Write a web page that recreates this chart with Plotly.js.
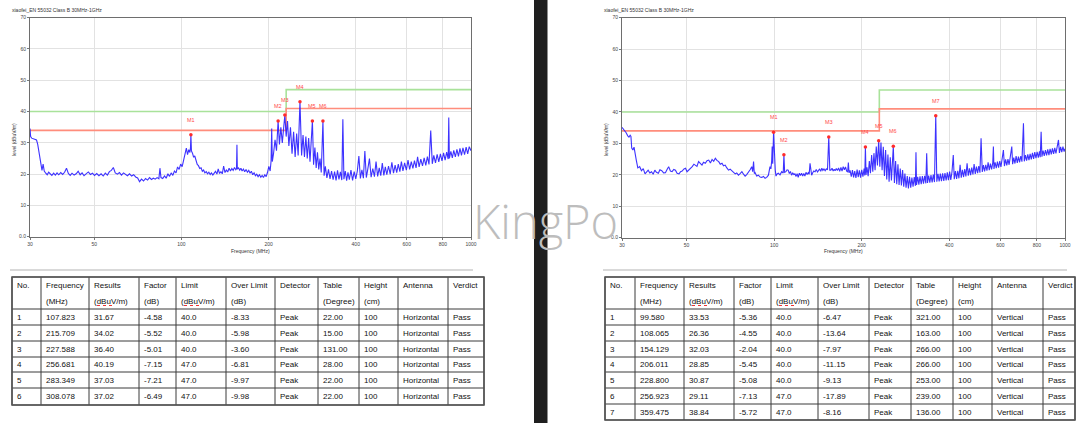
<!DOCTYPE html>
<html><head><meta charset="utf-8">
<script src="https://cdn.plot.ly/plotly-3.0.1.min.js"></script>
<style>html,body{margin:0;padding:0;background:#fff}#chart{width:1080px;height:423px}</style>
</head><body><div id="chart"></div>
<script>
// ---------- DATA ----------
const chartTitle = "xiaofei_EN 55032 Class B 30MHz-1GHz";
const xTickVals = [30, 50, 100, 200, 400, 600, 800, 1000];
const yTickVals = [0, 10, 20, 30, 40, 50, 60, 70];
const yTickText = ["0.0", "10", "20", "30", "40", "50", "60", "70"];

const limitFreq = [30, 230, 230, 1000];
const limitLevel = [40, 40, 47, 47];
const marginLevel = [34, 34, 41, 41];

// Horizontal scan (left chart)
const hFreq = [
30.0,30.15,30.4,30.8,31.2,31.6,31.9,32.2,32.5,32.8,
33.0,33.3,33.6,34.0,34.4,34.8,35.2,35.7,36.2,36.7,
37.2,37.7,38.3,38.9,39.5,40.1,40.7,41.3,41.9,42.6,
43.3,44.0,44.7,45.4,46.1,46.9,47.7,48.5,49.3,50.1,
51.0,51.9,52.8,53.7,54.6,55.5,56.4,57.3,58.2,59.1,
60.1,61.1,62.1,63.1,64.1,65.1,66.2,67.3,68.4,69.5,
70.6,71.7,72.8,74.0,75.2,76.4,77.6,78.8,80.0,81.2,
82.4,83.6,84.3,85.0,86.2,87.4,88.6,89.8,91.0,92.2,
93.4,94.6,95.8,97.0,98.2,99.4,100.6,101.8,103.0,104.0,
105.0,106.0,107.0,107.5,107.82,108.3,109.2,110.2,111.2,112.3,
113.4,114.5,115.7,116.9,118.1,119.3,120.5,121.8,123.1,124.4,
125.7,127.0,128.4,129.8,131.2,132.6,134.0,135.4,136.9,138.4,
139.9,141.4,142.9,144.5,146.1,147.7,149.3,150.9,152.5,154.1,
155.0,155.5,156.0,157.5,159.0,160.5,162.0,163.7,165.4,167.2,
169.0,170.8,172.6,174.4,176.3,178.2,180.1,182.0,184.0,186.0,
188.0,190.0,192.0,194.1,196.2,198.3,200.4,202.5,204.0,205.0,
206.0,208.0,210.5,213.0,215.71,218.0,220.5,223.0,225.5,227.59,
230.0,232.5,235.0,238.0,241.0,244.0,247.0,250.0,253.0,256.68,
260.0,263.0,266.0,269.0,272.0,275.0,278.0,281.0,283.35,286.0,
289.0,292.0,295.0,298.0,301.0,304.0,308.08,311.0,314.0,318.0,
322.0,326.0,330.0,334.0,338.0,342.0,346.0,350.0,354.0,358.0,
361.0,364.0,368.0,372.0,376.0,380.0,385.0,390.0,395.0,400.0,
405.0,410.0,415.0,420.0,425.0,430.0,435.0,440.0,446.0,452.0,
458.0,464.0,470.0,476.0,482.0,488.0,494.0,500.0,506.0,512.0,
519.0,526.0,533.0,540.0,547.0,554.0,561.0,568.0,575.0,582.0,
590.0,598.0,606.0,614.0,622.0,630.0,638.0,646.0,654.0,662.0,
671.0,680.0,689.0,698.0,707.0,716.0,726.0,735.0,744.0,754.0,
764.0,774.0,784.0,794.0,804.0,814.0,824.0,834.0,838.0,842.0,
852.0,862.0,872.0,883.0,894.0,905.0,916.0,927.0,938.0,950.0,
962.0,974.0,986.0,1000.0
];
const hLevel = [
34.6,32.0,31.5,31.3,31.1,30.9,29.5,27.0,24.3,22.0,
21.2,23.2,21.0,20.3,19.8,20.6,20.0,19.6,20.3,19.7,
20.4,19.8,20.5,19.9,20.6,21.9,20.2,19.6,20.3,19.7,
20.1,20.9,19.8,20.4,19.5,20.2,20.7,19.9,20.3,19.6,
20.2,19.5,20.1,19.4,20.3,19.7,20.8,21.2,22.1,20.4,
20.0,20.5,19.7,20.4,19.9,19.5,20.1,19.4,19.8,19.1,
18.8,17.6,18.4,17.8,18.6,18.1,18.9,18.3,18.7,18.4,
18.9,18.5,21.9,18.9,18.6,19.4,18.7,20.1,19.3,20.4,
19.6,21.0,20.4,22.3,21.5,23.2,22.4,24.6,26.4,28.3,
26.2,27.8,26.9,28.6,32.6,27.4,26.7,25.4,25.8,23.9,
23.1,22.7,21.8,22.0,20.9,21.3,20.4,20.8,20.1,20.6,
19.9,20.4,19.7,20.3,20.9,20.0,21.7,20.2,20.8,20.1,
22.6,20.5,21.3,20.7,21.9,21.0,21.8,21.2,22.1,21.4,
21.8,29.4,21.6,22.0,21.3,21.9,21.0,21.6,20.8,21.5,
20.6,21.2,20.3,20.9,19.8,20.4,19.5,20.0,19.2,19.8,
19.0,19.6,18.9,19.8,19.2,20.6,22.5,21.0,24.2,34.6,
24.0,26.5,31.0,27.5,37.0,29.5,35.0,30.0,36.5,38.9,
32.0,37.0,29.0,35.0,26.5,33.5,25.5,33.0,26.0,43.1,
26.0,32.5,25.5,32.0,25.0,31.5,24.0,30.5,37.0,23.0,
28.5,22.0,27.0,21.5,25.0,20.5,37.0,19.5,22.5,18.8,
21.5,18.5,21.0,18.2,20.8,18.0,21.2,18.3,20.7,18.1,
37.5,18.4,21.0,17.9,20.6,18.2,21.3,18.0,20.8,18.5,
21.0,25.8,18.6,21.4,18.7,27.4,18.9,21.5,25.0,19.0,
21.8,19.2,24.0,19.3,22.0,19.5,23.5,19.6,22.3,19.8,
22.6,20.0,23.8,20.3,22.9,20.5,23.2,20.8,24.0,21.0,
23.6,21.3,24.5,21.5,24.0,21.8,24.3,22.0,25.5,22.3,
24.8,22.6,25.2,22.8,25.6,23.1,33.9,23.3,26.0,23.6,
26.3,23.9,26.5,24.2,26.8,24.5,27.0,24.8,38.1,25.0,
27.3,25.2,27.6,25.5,27.9,25.7,28.2,26.0,28.4,26.2,
28.6,26.5,28.8,27.5
];
const hMarkFreq = [107.823, 215.709, 227.588, 256.681, 283.349, 308.078];
const hMarkLevel = [32.6, 37.0, 38.9, 43.1, 37.0, 37.0];

// Vertical scan (right chart)
const vFreq = [
30.0,30.4,30.7,31.0,31.4,31.7,32.0,32.2,32.4,32.7,
33.0,33.3,33.6,34.0,34.5,35.0,35.5,36.0,36.5,36.9,
37.4,37.9,38.4,38.9,39.4,40.0,40.5,41.1,41.7,42.3,
42.9,43.4,44.0,44.6,45.2,45.8,46.4,47.1,47.7,48.3,
49.0,49.6,50.2,50.9,51.6,52.3,53.0,53.7,54.3,55.0,
55.7,56.5,57.2,58.0,58.8,59.6,60.4,61.2,62.0,62.8,
63.6,64.5,65.3,66.2,67.0,67.9,68.8,69.7,70.6,71.6,
72.5,73.5,74.4,75.4,76.4,77.5,78.5,79.5,80.5,81.6,
82.7,83.8,84.4,85.0,85.5,86.0,87.1,88.3,89.5,90.7,
91.9,93.1,94.3,95.6,96.8,97.5,98.1,98.5,98.9,99.58,
100.2,100.9,101.5,102.4,103.4,104.8,106.2,107.5,108.07,108.7,
109.8,110.8,111.8,112.8,113.8,114.8,115.9,116.9,117.9,119.0,
120.0,121.0,122.1,123.2,124.3,125.4,126.5,127.6,128.7,129.9,
131.1,132.0,132.9,133.8,134.6,135.6,136.9,138.3,139.6,141.0,
142.0,143.4,144.6,145.9,147.1,148.4,149.8,151.2,152.6,154.13,
155.4,156.7,158.2,159.6,160.9,162.1,163.6,165.0,166.6,168.1,
169.7,171.2,172.8,174.4,176.0,177.6,179.0,180.0,181.0,182.5,
184.2,185.9,187.6,189.3,191.1,192.9,194.6,196.4,198.3,200.1,
202.0,203.9,205.0,206.01,207.0,208.6,210.5,212.5,214.4,216.4,
218.4,220.4,222.4,224.5,226.6,228.8,230.9,233.0,235.1,237.3,
239.5,241.7,243.9,246.2,248.5,250.8,253.1,254.5,256.92,259.2,
261.6,264.0,266.5,268.9,271.4,273.9,276.5,279.0,281.6,284.2,
286.9,289.5,292.2,294.9,297.6,300.4,303.2,306.0,307.4,308.8,
311.6,314.5,317.4,320.4,323.3,326.3,329.3,332.4,334.6,336.8,
339.9,343.0,346.2,349.4,352.6,355.9,359.48,362.5,365.9,369.3,
372.7,376.1,379.6,383.1,386.7,390.3,393.9,397.5,401.2,404.9,
408.7,413.0,416.2,420.1,424.0,427.9,431.9,435.9,439.9,444.0,
448.1,452.2,456.4,460.7,465.0,469.3,473.6,478.0,482.5,487.0,
491.5,496.1,500.7,505.3,510.0,514.6,519.5,524.3,529.2,534.1,
539.1,544.1,549.1,554.2,559.3,564.5,567.3,569.8,575.1,580.4,
585.8,591.2,596.7,602.2,607.8,614.1,619.2,624.9,630.7,636.6,
642.5,648.5,656.2,660.6,666.7,672.9,679.1,685.4,691.8,698.2,
704.7,711.2,719.8,724.5,731.2,738.0,744.9,751.8,758.8,765.8,
772.9,780.1,787.3,794.6,802.0,809.5,817.0,822.0,827.8,833.0,
840.7,848.5,856.4,864.4,872.4,880.5,888.7,897.0,905.3,913.7,
922.2,930.8,939.4,949.7,956.9,965.8,974.7,983.8,992.9,1000.0
];
const vLevel = [
35.1,34.5,34.0,33.4,32.4,32.0,32.6,32.2,28.5,27.9,
28.8,26.0,24.6,22.2,22.6,21.3,22.0,20.3,21.0,21.5,
20.6,21.0,20.2,21.5,20.8,20.5,21.6,21.3,20.6,20.7,
21.8,22.6,21.2,21.0,21.7,21.5,20.5,20.3,21.0,21.2,
21.9,22.1,21.0,21.5,22.2,22.6,23.4,23.1,22.7,24.2,
23.5,23.1,24.0,23.7,24.5,24.7,23.8,24.9,24.3,25.3,
24.6,24.2,23.4,23.7,22.9,23.1,22.2,21.5,21.8,21.3,
20.9,20.3,20.6,19.9,20.4,21.0,20.2,19.6,20.1,20.7,
21.6,22.6,21.0,24.2,20.4,20.7,19.6,19.9,19.3,19.2,
19.5,18.9,19.2,19.9,22.6,21.9,24.5,29.0,23.5,33.53,
25.0,21.6,19.6,20.3,20.5,20.0,21.0,20.6,26.36,20.8,
21.0,21.6,21.5,20.4,21.1,19.9,20.6,20.1,20.3,19.5,
20.4,19.2,20.5,19.8,20.5,19.6,20.4,19.6,20.8,20.1,
20.7,20.2,23.7,20.3,19.9,20.6,21.2,21.0,21.7,20.9,
21.3,21.9,21.1,22.1,21.4,21.9,21.3,21.9,21.6,32.03,
21.5,21.5,22.1,21.2,21.8,21.3,22.0,21.4,22.2,21.1,
22.4,21.2,22.6,21.6,22.5,21.2,21.0,23.9,20.7,21.4,
19.4,21.5,19.2,21.2,19.0,21.7,19.3,21.4,19.1,21.6,
19.4,22.0,19.8,28.85,20.0,22.4,19.6,24.4,20.5,26.3,
21.0,26.9,21.5,29.0,23.0,30.87,22.6,30.3,21.5,28.9,
19.6,27.9,18.5,26.5,17.8,25.6,18.2,24.5,29.11,17.4,
24.4,17.0,23.4,16.8,22.0,16.6,21.5,16.2,20.4,15.9,
19.6,15.7,19.4,15.9,19.1,16.2,19.3,16.5,27.2,16.8,
19.4,16.9,19.5,17.0,19.6,17.2,19.7,17.3,26.9,17.4,
19.8,17.5,19.9,17.6,20.1,17.7,38.84,17.8,20.3,17.9,
20.4,18.0,20.5,18.1,20.6,18.2,20.8,18.3,21.0,18.4,
20.9,26.3,18.6,21.2,18.7,21.3,18.9,23.2,19.1,21.6,
19.3,21.8,19.5,23.7,19.7,22.1,19.9,22.3,20.1,23.4,
20.3,22.6,20.5,22.8,20.7,31.6,20.9,23.1,21.1,23.2,
21.3,24.0,21.5,23.6,21.7,23.8,29.0,21.9,24.0,22.1,
24.2,22.3,24.4,22.5,24.6,27.9,22.8,24.9,23.0,25.0,
23.2,25.2,29.0,23.4,25.5,23.6,26.0,23.8,25.8,24.0,
26.0,24.2,36.4,24.3,26.3,24.5,26.5,24.7,26.7,24.9,
27.0,25.1,27.2,25.3,27.3,25.5,27.5,25.6,33.7,25.8,
27.7,26.0,27.9,26.2,28.1,26.3,28.3,26.5,28.4,26.7,
28.6,26.8,28.7,31.1,27.0,28.9,27.2,29.0,27.4,28.3
];
const vMarkFreq = [99.580, 108.065, 154.129, 206.011, 228.800, 256.923, 359.475];
const vMarkLevel = [33.53, 26.36, 32.03, 28.85, 30.87, 29.11, 38.84];

// Tables
const headTop = ["No.", "Frequency", "Results", "Factor", "Limit", "Over Limit", "Detector", "Table", "Height", "Antenna", "Verdict"];
const headSub = ["", "(MHz)", "(dBuV/m)", "(dB)", "(dBuV/m)", "(dB)", "", "(Degree)", "(cm)", "", ""];
const hRows = [
 ["1","107.823","31.67","-4.58","40.0","-8.33","Peak","22.00","100","Horizontal","Pass"],
 ["2","215.709","34.02","-5.52","40.0","-5.98","Peak","15.00","100","Horizontal","Pass"],
 ["3","227.588","36.40","-5.01","40.0","-3.60","Peak","131.00","100","Horizontal","Pass"],
 ["4","256.681","40.19","-7.15","47.0","-6.81","Peak","28.00","100","Horizontal","Pass"],
 ["5","283.349","37.03","-7.21","47.0","-9.97","Peak","22.00","100","Horizontal","Pass"],
 ["6","308.078","37.02","-6.49","47.0","-9.98","Peak","22.00","100","Horizontal","Pass"]
];
const vRows = [
 ["1","99.580","33.53","-5.36","40.0","-6.47","Peak","321.00","100","Vertical","Pass"],
 ["2","108.065","26.36","-4.55","40.0","-13.64","Peak","163.00","100","Vertical","Pass"],
 ["3","154.129","32.03","-2.04","40.0","-7.97","Peak","266.00","100","Vertical","Pass"],
 ["4","206.011","28.85","-5.45","40.0","-11.15","Peak","266.00","100","Vertical","Pass"],
 ["5","228.800","30.87","-5.08","40.0","-9.13","Peak","253.00","100","Vertical","Pass"],
 ["6","256.923","29.11","-7.13","47.0","-17.89","Peak","239.00","100","Vertical","Pass"],
 ["7","359.475","38.84","-5.72","47.0","-8.16","Peak","136.00","100","Vertical","Pass"]
];

// ---------- LAYOUT HELPERS ----------
const W = 1080, H = 423;
const px = x => x / W, py = y => 1 - y / H;
const FONT = "Liberation Sans, Arial, sans-serif";

const traces = [];
const annotations = [];
const shapes = [];

function addChart(xa, ya, freq, level, mF, mV) {
  traces.push({x: limitFreq, y: limitLevel, xaxis: xa, yaxis: ya, mode: "lines",
    line: {color: "#a9e29a", width: 1.6}, hoverinfo: "skip"});
  traces.push({x: limitFreq, y: marginLevel, xaxis: xa, yaxis: ya, mode: "lines",
    line: {color: "#ff8d7c", width: 1.6}, hoverinfo: "skip"});
  traces.push({x: freq, y: level, xaxis: xa, yaxis: ya, mode: "lines",
    line: {color: "rgba(40,28,255,0.9)", width: 1.1}, hoverinfo: "skip"});
  traces.push({x: mF, y: mV, xaxis: xa, yaxis: ya, mode: "markers",
    marker: {color: "#ff2b2b", size: 3.5}, hoverinfo: "skip"});
  mF.forEach((f, i) => {
    annotations.push({x: Math.log10(f), y: mV[i], xref: xa, yref: ya, text: "M" + (i + 1),
      showarrow: false, yanchor: "middle", xanchor: "center", yshift: 15,
      font: {family: FONT, size: 5.5, color: "#ff4a4a"}});
  });
}
addChart("x", "y", hFreq, hLevel, hMarkFreq, hMarkLevel);
addChart("x2", "y2", vFreq, vLevel, vMarkFreq, vMarkLevel);

function xAxis(d0, d1, anchor) {
  return {type: "log", domain: [px(d0), px(d1)], range: [Math.log10(30), 3], anchor: anchor,
    tickvals: xTickVals, ticktext: xTickVals.map(String), ticks: "outside", ticklen: 2,
    tickcolor: "#777", tickfont: {family: FONT, size: 5, color: "#444"},
    showgrid: true, gridcolor: "#e2e2e2", gridwidth: 1, zeroline: false,
    showline: true, linecolor: "#6e6e6e", linewidth: 1, mirror: true, fixedrange: true};
}
function yAxis(top, bottom, anchor) {
  return {domain: [py(bottom), py(top)], range: [0, 70], anchor: anchor,
    tickvals: yTickVals, ticktext: yTickText, ticks: "outside", ticklen: 2,
    tickcolor: "#777", tickfont: {family: FONT, size: 5, color: "#444"},
    showgrid: true, gridcolor: "#e2e2e2", gridwidth: 1, zeroline: false,
    showline: true, linecolor: "#6e6e6e", linewidth: 1, mirror: true, fixedrange: true};
}

// titles and axis titles
function chartText(x, y, text, size, opts) {
  annotations.push(Object.assign({x: px(x), y: py(y), xref: "paper", yref: "paper", text: text,
    showarrow: false, font: {family: FONT, size: size, color: "#333"}}, opts || {}));
}
chartText(10, 10, chartTitle, 5, {xanchor: "left", yanchor: "middle"});
chartText(602, 10, chartTitle, 5, {xanchor: "left", yanchor: "middle"});
chartText(250.5, 251, "Frequency (MHz)", 5, {xanchor: "center", yanchor: "middle"});
chartText(843.5, 251, "Frequency (MHz)", 5, {xanchor: "center", yanchor: "middle"});
chartText(14, 140, "level (dBuV/m)", 5, {xanchor: "center", yanchor: "middle", textangle: -90});
chartText(606, 140, "level (dBuV/m)", 5, {xanchor: "center", yanchor: "middle", textangle: -90});

// separators under charts
shapes.push({type: "line", xref: "paper", yref: "paper", x0: px(10), x1: px(473), y0: py(270), y1: py(270),
  line: {color: "#d9d9d9", width: 2}});
shapes.push({type: "line", xref: "paper", yref: "paper", x0: px(603), x1: px(1067), y0: py(270), y1: py(270),
  line: {color: "#d9d9d9", width: 2}});

// tables
function drawTable(colEdges, rowEdges, rows) {
  const x0 = colEdges[0], x1 = colEdges[colEdges.length - 1];
  const y0 = rowEdges[0], y1 = rowEdges[rowEdges.length - 1];
  colEdges.forEach(c => shapes.push({type: "line", xref: "paper", yref: "paper",
    x0: px(c), x1: px(c), y0: py(y0), y1: py(y1), line: {color: "#3a3a3a", width: 1}}));
  rowEdges.forEach(r => shapes.push({type: "line", xref: "paper", yref: "paper",
    x0: px(x0), x1: px(x1), y0: py(r), y1: py(r), line: {color: "#3a3a3a", width: 1}}));
  shapes.push({type: "rect", xref: "paper", yref: "paper", x0: px(x0), x1: px(x1), y0: py(y0), y1: py(y1),
    line: {color: "#555", width: 1.6}});
  const tfont = {family: FONT, size: 8, color: "#111"};
  headTop.forEach((t, j) => {
    annotations.push({x: px(colEdges[j] + 3), y: py(285.7), xref: "paper", yref: "paper", text: t,
      showarrow: false, xanchor: "left", yanchor: "middle", font: tfont});
    if (headSub[j]) annotations.push({x: px(colEdges[j] + 3), y: py(301.7), xref: "paper", yref: "paper",
      text: headSub[j], showarrow: false, xanchor: "left", yanchor: "middle", font: tfont});
  });
  rows.forEach((row, i) => {
    const yc = (rowEdges[i + 1] + rowEdges[i + 2]) / 2;
    row.forEach((t, j) => annotations.push({x: px(colEdges[j] + 3), y: py(yc), xref: "paper", yref: "paper",
      text: t, showarrow: false, xanchor: "left", yanchor: "middle", font: tfont}));
  });
  // spell-check underline under "dBuV"
  [2, 4].forEach(j => shapes.push({type: "line", xref: "paper", yref: "paper",
    x0: px(colEdges[j] + 8), x1: px(colEdges[j] + 23), y0: py(305.5), y1: py(305.5),
    line: {color: "#e33", width: 1, dash: "dot"}}));
}
drawTable([12, 41, 89, 139, 176, 226, 275, 318, 359, 398, 448, 484],
          [277, 309, 325, 341, 357, 372, 388, 405], hRows);
drawTable([605, 635, 684, 734, 771, 818, 869, 911, 953, 992, 1043, 1075],
          [277, 309, 325, 341, 357, 372, 388, 404, 420], vRows);

// black divider (below annotations so the watermark sits on top)
shapes.push({type: "rect", xref: "paper", yref: "paper", x0: px(534), x1: px(547.5), y0: 0, y1: 1,
  fillcolor: "#1f1f1f", line: {width: 0}, layer: "below"});

// watermark
annotations.push({x: px(545.5), y: py(221), xref: "paper", yref: "paper", text: "KingPo", showarrow: false,
  xanchor: "center", yanchor: "middle",
  font: {family: "Open Sans, sans-serif", size: 47, color: "#bdbdbd", weight: 300}});

const layout = {
  width: W, height: H, margin: {l: 0, r: 0, t: 0, b: 0},
  paper_bgcolor: "#ffffff", plot_bgcolor: "rgba(0,0,0,0)", showlegend: false,
  xaxis: xAxis(30, 471, "y"), yaxis: yAxis(17.7, 236.7, "x"),
  xaxis2: xAxis(622, 1065, "y2"), yaxis2: yAxis(17.7, 237.7, "x2"),
  annotations: annotations, shapes: shapes
};
Plotly.newPlot("chart", traces, layout, {staticPlot: true, displayModeBar: false});
</script></body></html>
